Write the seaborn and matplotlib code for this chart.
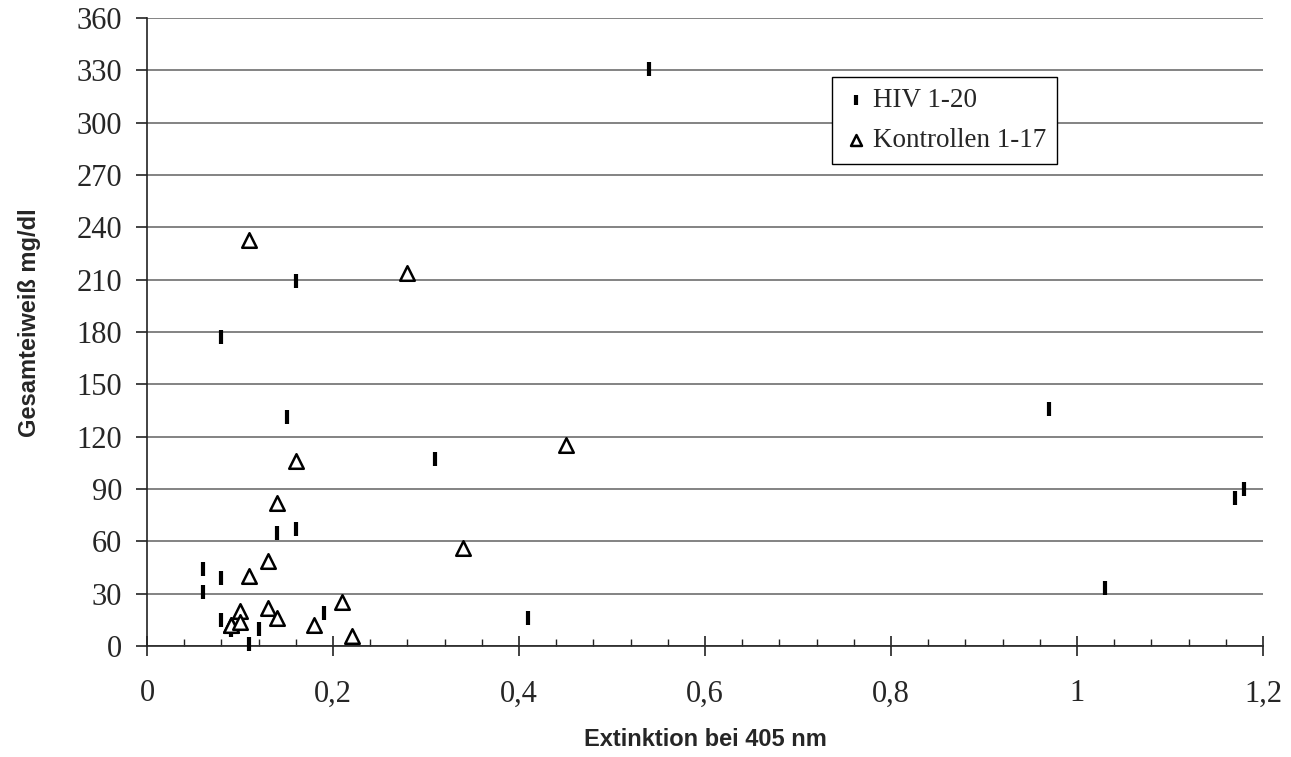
import matplotlib
matplotlib.use("Agg")
import matplotlib.pyplot as plt
import pandas as pd
import seaborn as sns
from matplotlib.ticker import MultipleLocator

# HIV 1-20
hiv_ext = [0.06, 0.06, 0.08, 0.08, 0.08, 0.09, 0.11, 0.12, 0.14, 0.15,
           0.16, 0.16, 0.19, 0.31, 0.41, 0.54, 0.97, 1.03, 1.17, 1.18]
hiv_prot = [44, 31, 39, 15, 177, 9, 1, 10, 65, 131,
            67, 209, 19, 107, 16, 331, 136, 33, 85, 90]

# Kontrollen 1-17
ctrl_ext = [0.09, 0.09, 0.10, 0.10, 0.11, 0.11, 0.13, 0.13, 0.14, 0.14,
            0.16, 0.18, 0.21, 0.22, 0.28, 0.34, 0.45]
ctrl_prot = [12, 12, 20, 14, 40, 233, 49, 22, 82, 16,
             106, 12, 25, 6, 214, 56, 115]

x_ticks = [0, 0.2, 0.4, 0.6, 0.8, 1.0, 1.2]
x_tick_labels = ["0", "0,2", "0,4", "0,6", "0,8", "1", "1,2"]
y_ticks = list(range(0, 361, 30))

hiv = pd.DataFrame({"ext": hiv_ext, "prot": hiv_prot})
ctrl = pd.DataFrame({"ext": ctrl_ext, "prot": ctrl_prot})

sns.set_theme(style="white")
plt.rcParams["font.family"] = ["Liberation Serif", "DejaVu Serif"]

fig = plt.figure(figsize=(12.91, 7.57), dpi=100)
ax = fig.add_axes([0.1139, 0.1466, 0.8644, 0.8296])

sns.scatterplot(x="ext", y="prot", data=hiv, marker="|", s=110, color="black",
                linewidth=3, label="HIV 1-20", ax=ax, clip_on=False, zorder=3)
sns.scatterplot(x="ext", y="prot", data=ctrl, marker="^", s=110, facecolor="white",
                edgecolor="black", linewidth=1.8, label="Kontrollen 1-17", ax=ax,
                clip_on=False, zorder=4)

ax.set_xlim(0, 1.2)
ax.set_ylim(0, 360)
ax.set_xticks(x_ticks)
ax.set_xticklabels(x_tick_labels)
ax.xaxis.set_minor_locator(MultipleLocator(0.04))
ax.set_yticks(y_ticks)

ax.yaxis.grid(True, color="#6e6e6e", linewidth=1.2)
ax.set_axisbelow(True)
for side in ["top", "right"]:
    ax.spines[side].set_visible(False)
for side in ["left", "bottom"]:
    ax.spines[side].set_color("#222222")
    ax.spines[side].set_linewidth(1.2)

ax.tick_params(axis="y", which="major", direction="out", length=8, width=1.2,
               color="#222222", labelsize=22, pad=10, left=True)
ax.tick_params(axis="x", which="major", direction="inout", length=14, width=1.2,
               color="#222222", labelsize=22, pad=17, bottom=True)
ax.tick_params(axis="x", which="minor", direction="in", length=5, width=1.0,
               color="#222222", bottom=True)

ax.set_xlabel("Extinktion bei 405 nm", fontsize=17, fontweight="bold",
              family="Liberation Sans")
ax.set_ylabel("Gesamteiweiß mg/dl", fontsize=17, fontweight="bold",
              family="Liberation Sans")
ax.xaxis.set_label_coords(0.5, -0.13)
ax.yaxis.set_label_coords(-0.095, 0.515)

leg = ax.legend(loc="upper left", bbox_to_anchor=(0.6138, 0.906), fontsize=19.5,
                frameon=True, fancybox=False, edgecolor="black", framealpha=1,
                borderaxespad=0, handletextpad=0.1, handlelength=1.0,
                borderpad=0.4, labelspacing=0.55, markerscale=0.75)
leg.get_frame().set_linewidth(1.0)

fig.savefig("out.png", dpi=100)
